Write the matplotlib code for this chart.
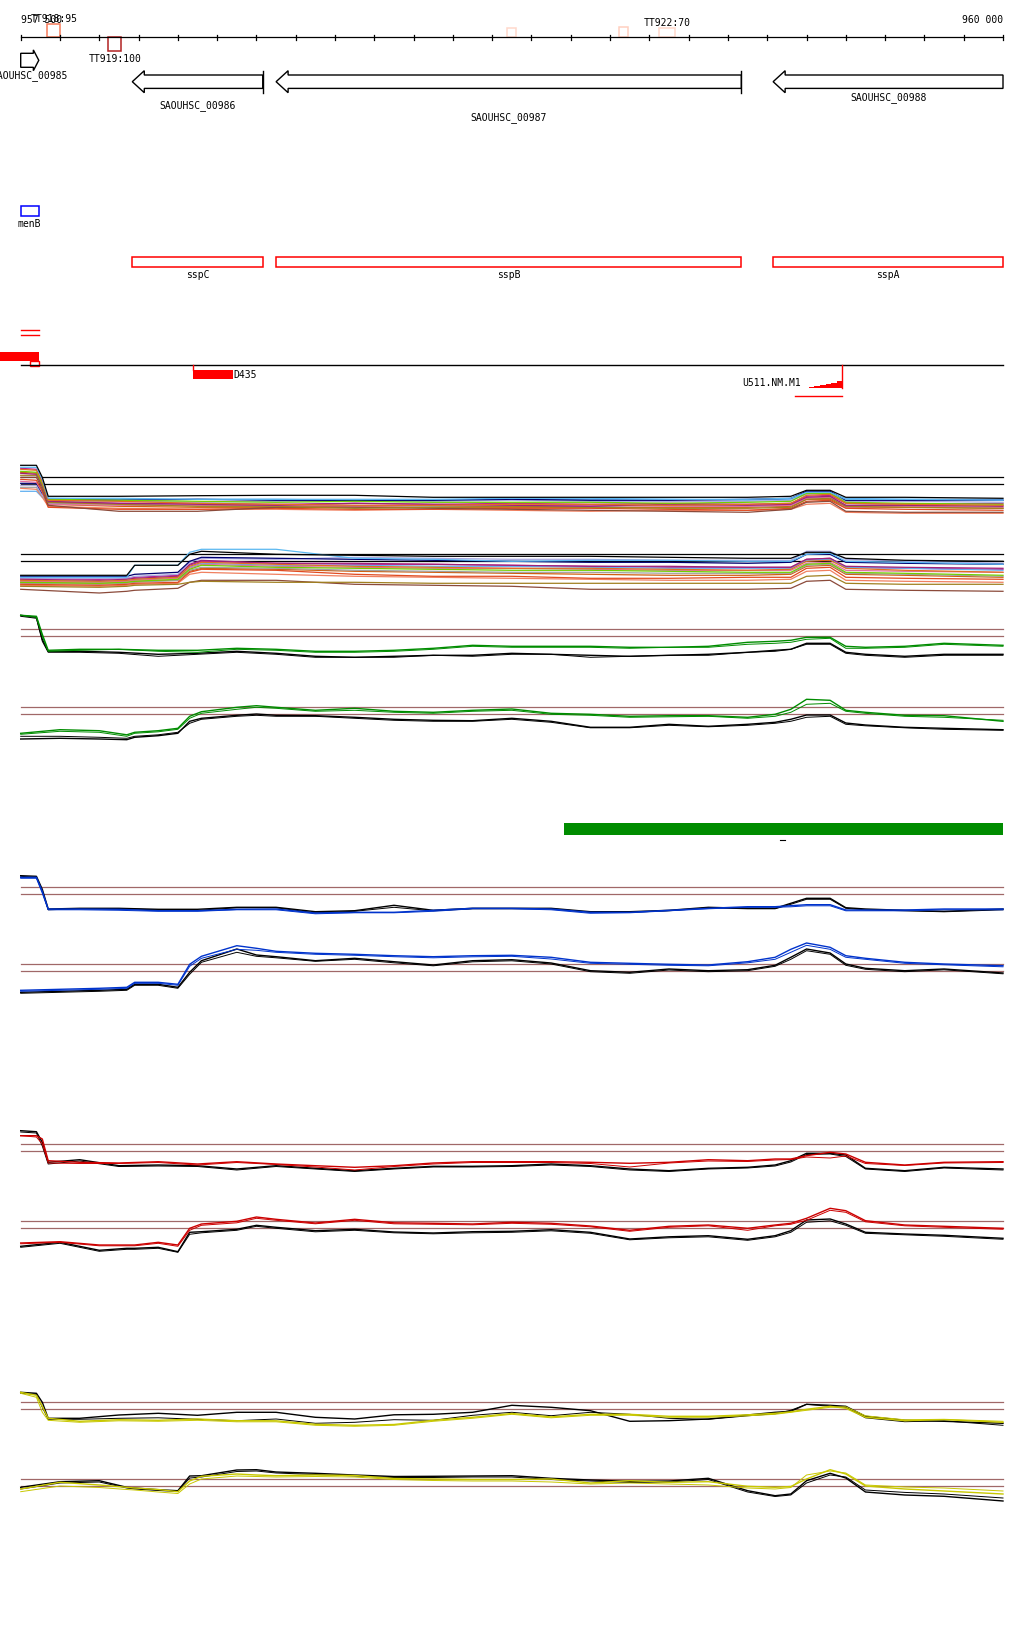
import numpy as np
import matplotlib.pyplot as plt
from matplotlib.patches import Polygon, Rectangle

# ---- view / ruler ----
VIEW_START, VIEW_END = 957500, 960000
BP_PER_PX = (VIEW_END - VIEW_START) / (1003.0 - 20.7)
X_LEFT = VIEW_START - 20.7 * BP_PER_PX
X_RIGHT = VIEW_START + (1024 - 20.7) * BP_PER_PX
TICK_STEP = 100

# ---- genes ----
gene_names = ["SAOUHSC_00985", "SAOUHSC_00986", "SAOUHSC_00987", "SAOUHSC_00988"]
gene_start = [957350, 957784, 958150, 959415]
gene_end = [957546, 958116, 959334, 960250]
gene_strand = [1, -1, -1, -1]

# ---- operon / feature boxes ----
feat_names = ["menB", "sspC", "sspB", "sspA"]
feat_start = [957500, 957784, 958150, 959415]
feat_end = [957546, 958116, 959334, 960000]

# ---- terminators ----
term_labels = ["TT918:95", "TT919:100", "", "", "TT922:70"]
term_start = [957568, 957723, 958737, 959023, 959125]
term_end = [957601, 957756, 958760, 959045, 959165]
term_score = [95, 100, 68, 74, 66]
term_strand = [1, -1, 1, 1, 1]

# ---- small RNA / read track ----
srna_labels = ["D435", "U511.NM.M1"]
cov_x = [959491, 959506, 959519, 959533, 959549, 959563, 959578, 959591]
cov_h = [0.7, 1.3, 2.0, 3.0, 4.0, 5.0, 7.0, 7.0]

# ---- signal tracks (thresholds shared) ----
THRESH = [40, 33]

X_UP = [957500, 957540, 957555, 957570, 957650, 957750, 957850, 957950, 958050, 958150,
        958250, 958350, 958450, 958550, 958650, 958750, 958850, 958950, 959050, 959150,
        959250, 959350, 959420, 959460, 959500, 959560, 959600, 959650, 959750, 959850, 960000]
X_LO = [957500, 957600, 957700, 957770, 957790, 957850, 957900, 957930, 957960, 958050,
        958100, 958150, 958250, 958350, 958450, 958550, 958650, 958750, 958850, 958950,
        959050, 959150, 959250, 959350, 959420, 959460, 959500, 959560, 959600, 959650,
        959750, 959850, 960000]
X_M_UP = [957500, 957540, 957555, 957570, 957750, 957950, 958150, 958350, 958550, 958750,
          958950, 959150, 959350, 959460, 959500, 959560, 959600, 959750, 960000]
X_M_LO = [957500, 957700, 957770, 957790, 957900, 957930, 957960, 958150, 958350, 958550,
          958750, 958950, 959150, 959350, 959460, 959500, 959560, 959600, 959750, 960000]

# multi-condition group (many colours)
multi_colors = ["black", "#5BB8F0", "#E07020", "#70D000", "#A0207A", "#A08020", "#8B4A3A",
                "#E04A20", "#E070A0", "#000070", "#A8A8E0", "#A0A0A0", "#F08060", "#60B0F0",
                "#C02090", "#D06010"]
multi_up = [
    [52, 52, 40, 21, 21, 21.6, 22, 22, 20, 20, 20, 20, 20, 21, 27, 27, 20, 20, 19],
    [50, 50, 38, 19, 19, 18, 18, 18, 18, 19, 19, 18, 18, 19, 25, 25, 18, 18, 17],
    [48, 47, 35, 17, 16, 14, 13, 12, 12, 13, 13, 12, 13, 14, 22, 23, 14, 13, 12],
    [46, 45, 33, 18, 17, 16, 15, 16, 15, 15, 15, 14, 15, 16, 24, 24, 15, 14, 13],
    [44, 43, 31, 16, 14, 13, 12, 14, 13, 12, 11, 13, 12, 13, 20, 21, 12, 12, 11],
    [42, 42, 30, 15, 13, 11, 11, 9, 10, 11, 10, 9, 9, 10, 18, 19, 11, 10, 9],
    [40, 40, 28, 12, 6, 6, 10, 10, 9, 8, 7, 6, 5, 8, 15, 16, 6, 5, 5],
    [38, 37, 26, 10, 8, 8, 9, 8, 8, 9, 9, 8, 7, 9, 16, 17, 9, 8, 7],
    [36, 35, 25, 13, 12, 12, 12, 11, 12, 11, 12, 11, 11, 12, 19, 20, 10, 11, 10],
    [34, 34, 24, 18, 17, 18, 17, 17, 17, 18, 17, 17, 18, 19, 26, 26, 17, 17, 17],
    [32, 32, 22, 16, 16, 15, 16, 16, 16, 17, 16, 16, 16, 17, 23, 24, 16, 16, 15],
    [30, 30, 21, 14, 13, 12, 12, 12, 11, 11, 11, 12, 11, 12, 19, 20, 12, 12, 12],
    [29, 28, 20, 11, 9, 8, 8, 7, 8, 7, 6, 7, 7, 8, 13, 14, 5, 4, 4],
    [26, 26, 20, 19, 18, 18, 18, 17, 17, 18, 18, 18, 17, 18, 24, 24, 19, 18, 18],
    [49, 48, 36, 15, 14, 14, 13, 14, 13, 14, 13, 14, 13, 14, 21, 22, 14, 13, 14],
    [45, 44, 32, 13, 11, 10, 10, 11, 10, 10, 10, 10, 10, 11, 18, 18, 10, 10, 9],
]
multi_lo = [
    [19, 19, 19, 29, 29, 40, 43, 40, 39, 38, 38, 38, 37, 36, 36, 42, 42, 36, 34, 33],
    [17, 17, 17, 29, 29, 42, 45, 45, 36, 35, 33, 34, 34, 33, 33, 40, 41, 33, 32, 30],
    [14, 13, 14, 15, 17, 28, 32, 30, 28, 27, 26, 26, 25, 24, 25, 33, 34, 26, 24, 22],
    [12, 11, 12, 13, 15, 25, 29, 27, 26, 25, 24, 24, 23, 22, 22, 30, 31, 22, 21, 19],
    [15, 14, 15, 16, 18, 30, 34, 31, 31, 30, 29, 28, 28, 27, 27, 35, 36, 28, 27, 26],
    [8, 7, 8, 9, 10, 12, 13, 12, 12, 11, 11, 11, 11, 11, 11, 18, 19, 11, 10, 10],
    [5, 1.3, 3, 4, 6, 12, 14, 14, 10, 9, 8, 5, 5, 5, 6, 13, 14, 5, 4, 3],
    [10, 9, 10, 11, 12, 22, 25, 24, 20, 18, 18, 16, 16, 17, 17, 26, 27, 17, 16, 15],
    [13, 12, 13, 14, 16, 26, 30, 28, 27, 26, 26, 25, 24, 24, 24, 31, 32, 24, 23, 22],
    [18, 18, 18, 20, 22, 33, 37, 36, 35, 34, 33, 32, 32, 31, 32, 40, 40, 32, 31, 30],
    [16, 16, 16, 18, 20, 32, 36, 35, 37, 36, 35, 35, 34, 34, 34, 43, 43, 35, 33, 31],
    [11, 10, 11, 12, 14, 24, 27, 26, 24, 23, 22, 22, 21, 21, 21, 29, 30, 21, 20, 18],
    [9, 8, 9, 10, 11, 20, 22, 20, 18, 17, 16, 15, 14, 14, 15, 23, 24, 14, 13, 12],
    [14, 13, 14, 15, 17, 27, 31, 29, 29, 28, 28, 27, 26, 26, 26, 34, 35, 27, 26, 24],
    [16, 15, 16, 17, 19, 29, 33, 31, 30, 30, 29, 28, 27, 27, 27, 35, 36, 27, 26, 25],
    [12, 11, 12, 13, 14, 23, 26, 25, 23, 22, 21, 20, 19, 19, 20, 28, 29, 20, 19, 17],
]

# green condition
green_up_a = [54, 53, 35, 19, 20, 20, 19, 19, 21, 20, 18, 18, 19, 21, 24, 23, 23, 23, 22, 22,
              23, 27, 28, 29, 32, 32, 23, 22, 23, 26, 24]
green_up_b = [54, 52, 33, 18, 19, 20, 18, 17, 20, 19, 17, 17, 18, 20, 23, 22, 22, 22, 21, 22,
              22, 25, 26, 27, 30, 31, 21, 21, 22, 25, 23]
green_up_k1 = [54, 52, 30, 18, 18, 17, 15, 16, 18, 16, 13, 12, 13, 14, 14, 16, 15, 14, 13, 14,
               15, 17, 19, 20, 26, 26, 17, 15, 13, 15, 15]
green_up_k2 = [53, 51, 28, 17, 17, 16, 13, 15, 17, 15, 12, 12, 12, 14, 13, 15, 15, 12, 13, 14,
               14, 17, 18, 20, 25, 25, 16, 14, 12, 14, 14]
green_lo_a = [14, 17.6, 16.6, 12.5, 15, 16.6, 19, 31, 35.6, 40, 41.6, 40, 37, 39, 36, 35, 37,
              38.3, 34, 33, 31, 31.6, 31.6, 30, 33, 38, 48, 47, 37, 35, 32, 31.6, 26]
green_lo_b = [13, 16, 15, 11, 14, 15.5, 18, 29, 34, 38, 40, 39, 36, 37, 35, 34, 36, 37, 33, 32,
              30, 30.5, 31, 29, 31, 35, 43, 44, 36, 34, 31, 30, 27]
green_lo_k1 = [8.3, 9, 8.3, 7.6, 10, 11.6, 14, 26, 29, 32, 33.3, 32, 31.6, 30, 28, 27, 26.6, 29,
               26, 20, 20, 23, 21, 23, 25, 28, 32.3, 32.3, 24.3, 22.3, 20, 19, 17.6]
green_lo_k2 = [11, 11, 10, 9, 11, 12.5, 15, 24, 28, 31, 32, 31, 31, 29, 27, 26, 26, 28, 25,
               19.5, 19.5, 22, 20.5, 22, 24, 26, 30, 31, 23, 21.5, 19.5, 18, 17]

# blue condition
blue_up_a = [50, 50, 36, 18.3, 18.3, 18, 16.6, 16.6, 18, 18.3, 14.3, 15, 15, 17, 19, 19, 18.3,
             15, 15, 17, 19, 20.6, 20.6, 21.6, 22.6, 22.6, 17.3, 17.3, 17.3, 18.3, 18.3]
blue_up_b = [49, 49, 34, 17.5, 17.5, 17, 16, 16, 17.5, 17.5, 13.5, 14.5, 14.5, 16, 18.5, 18.5,
             17.5, 14, 14.5, 16.5, 18.5, 20, 20, 20.5, 21.5, 21.5, 16.5, 16.5, 16.5, 17.5, 17.5]
blue_up_k1 = [51.6, 51, 38, 18.3, 19, 19, 18, 18, 20, 20, 15.6, 16.6, 22, 17, 19, 19, 19, 15.6,
              15.6, 17, 20, 19, 19, 24, 29, 29, 19.6, 18.3, 17, 16, 18.3]
blue_up_k2 = [51, 50, 36, 17.5, 18.5, 18.5, 17.5, 17, 19.5, 19.5, 14.5, 16, 20, 16.5, 18.5, 18.5,
              18.5, 15, 15, 16.5, 19.5, 18.5, 18.5, 23, 28, 28, 19, 17.5, 16.5, 15.5, 17.5]
blue_lo_a = [14, 15, 16, 17, 22, 22, 20, 40, 48, 58.6, 56, 53, 51, 50, 48.6, 47.6, 48.6, 49, 47,
             42, 41, 40, 39.3, 42.6, 47, 55, 61.3, 57, 48.6, 46, 42, 40.3, 38.6]
blue_lo_b = [13, 14, 15, 16, 21, 21, 19, 38, 46, 55, 54, 52, 50, 49, 47.6, 46.5, 47.5, 48, 45.3,
             41, 40, 39, 38.5, 41.5, 45, 52, 59, 55, 47, 45, 41, 39.5, 37.5]
blue_lo_k1 = [12, 13, 14, 15, 20, 20, 17, 32, 43.6, 55.3, 49.3, 47.6, 43.6, 46, 42.6, 39.3, 43.6,
              44.6, 41.3, 33.6, 32, 35.3, 33.6, 34.6, 39, 47, 55.3, 51.3, 40.3, 36, 33.6, 35.3, 31.3]
blue_lo_k2 = [11, 12, 13, 14, 19, 19, 16, 30, 42, 52, 48, 46.5, 43, 45, 41.5, 38.5, 42.5, 43.5,
              40.3, 32.6, 31, 34.3, 32.6, 33.6, 38, 45, 53.6, 50, 39, 35, 32.6, 34.5, 30.5]

# red condition
red_up_a = [48.3, 48.3, 45, 23.3, 21.7, 21, 22.3, 20, 22.3, 20, 18.3, 16.7, 18.3, 21, 22.3, 22.3,
            22.3, 21.7, 20.7, 21.7, 24.3, 23.3, 25, 25, 28.3, 31.7, 30, 21.7, 19, 21.7, 22.3]
red_up_b = [48.3, 47, 40, 21, 20.5, 20.5, 21.5, 19, 21.5, 19.5, 17, 14, 17.5, 20, 21.5, 21.5,
            21.5, 20.5, 17, 21, 23, 22.5, 24, 24.5, 27, 26, 28, 20.5, 18.5, 21, 21.5]
red_up_k1 = [53.3, 52.3, 41.7, 21.7, 24.3, 18.3, 19, 18.3, 15, 18.3, 15.7, 13.3, 15.7, 17.7, 17.7,
             18.3, 20, 18.3, 15, 13.3, 15.7, 16.7, 19, 23.3, 30.7, 30.7, 29, 15.7, 13.3, 16.7, 15]
red_up_k2 = [52, 51, 38, 20, 23, 17.5, 18, 17.5, 14, 17.5, 15, 12.5, 15, 17, 17, 17.5, 19, 17.5,
             14, 12.5, 15, 16, 18, 22, 29.5, 30, 27.5, 15, 12.5, 16, 14]
red_lo_a = [18.3, 19.6, 16.3, 16.3, 16.3, 19, 16.3, 33, 37.3, 40, 44.3, 42, 38.3, 42, 38.5, 38,
            37.3, 39, 38, 35.3, 31, 35, 36.3, 33, 36.3, 38, 43, 53, 50.6, 40.6, 36.3, 35, 33]
red_lo_b = [17.5, 19, 15.5, 15.5, 15.5, 18, 15, 31, 36, 38.5, 43, 41, 37.5, 41, 37.5, 37, 36.5,
            38, 37, 34.5, 30, 34, 35.5, 31, 35.5, 37, 41, 51, 49, 39.5, 35.5, 34, 32]
red_lo_k1 = [15, 19, 11, 13, 13, 14, 9.6, 29, 29.6, 32, 36, 34, 30.6, 32, 29.3, 28.3, 29.6, 30,
             31.6, 29, 22.3, 24.5, 25.6, 22, 25.6, 30.6, 41.3, 42.3, 37.3, 29, 27.3, 26, 23]
red_lo_k2 = [14, 18, 10, 12, 12, 13, 9, 27, 28.5, 31, 35, 33, 29.5, 31, 28.5, 27.5, 28.5, 29,
             30.5, 28, 21.5, 23.5, 24.5, 21, 24.5, 29, 39, 40.5, 36, 28, 26.5, 25, 22]

# yellow condition
yel_up_a = [50, 47, 36, 24, 21, 22.6, 22, 23.3, 21.6, 21.5, 18, 17, 17.8, 22, 25, 28.8, 25.4,
            28, 28, 26, 26, 27.5, 29, 30.5, 33, 36, 34, 25, 21.6, 22.6, 20]
yel_up_b = [49, 45, 30, 22, 20, 21.5, 21, 22, 20.5, 20.5, 17, 16, 17, 21, 24, 28, 24.5, 27, 27,
            25, 25, 26.5, 28, 30, 32, 35, 35.5, 26.5, 22.5, 23, 21]
yel_up_k1 = [50, 49, 40, 24, 24, 27.3, 29, 27, 30, 30, 25, 23.3, 27.5, 28, 30, 37, 35, 31.6, 21,
             21.6, 23.3, 27.3, 30, 31, 38, 37, 36, 26, 22, 21, 19]
yel_up_k2 = [49, 48, 35, 23, 23, 24, 24.5, 23, 21.6, 23.3, 19, 20, 22.6, 22, 27, 30, 26.6, 30,
             28, 24, 23, 26.5, 28.5, 32, 38, 36, 35, 24.5, 20.6, 21.5, 17]
yel_lo_a = [30, 36.7, 34, 31.7, 31, 29.5, 27.3, 38, 42.7, 45, 44, 43.3, 44, 43.5, 40.5, 40,
            39.5, 39.5, 40, 36, 38.3, 36.7, 37.3, 32.7, 31.7, 32.5, 40, 49.3, 45, 33, 30, 28, 25]
yel_lo_b = [27.3, 33, 31.5, 29.5, 29, 27, 25.5, 35, 40, 43, 42.5, 42, 42.5, 42, 39.5, 38.5, 38,
            38, 37, 35, 36, 35, 34, 31, 30, 31.5, 44, 48, 46, 34, 32, 31, 28]
yel_lo_k1 = [31.7, 37.3, 38.3, 31.7, 31, 29.3, 28.3, 43, 43.3, 49, 49.3, 47, 45.7, 44, 42.5,
             42.7, 43, 43.3, 40.7, 39, 37.7, 38, 40.7, 28.3, 23.3, 25, 38.3, 45.7, 41, 27, 24,
             22.7, 18]
yel_lo_k2 = [30, 36, 37, 31, 30, 28.5, 27.5, 41, 42, 47.5, 48, 46, 44.5, 43, 41.5, 41.5, 42, 42,
             39.5, 38, 36.5, 37, 39.5, 27, 22.5, 24, 36, 44, 42, 29, 26.6, 25, 21]

# ---------------- drawing ----------------
W, H = 1024, 1640
fig = plt.figure(figsize=(W / 100, H / 100), dpi=100)
ax = fig.add_axes([0, 0, 1, 1])
ax.set_xlim(X_LEFT, X_RIGHT)
ax.set_ylim(H, 0)
ax.axis("off")

FONT = dict(family="DejaVu Sans Mono", fontsize=7, color="black")
px = BP_PER_PX

# ruler
RULER_Y = 38.3
ax.plot([VIEW_START, VIEW_END], [RULER_Y, RULER_Y], color="black", lw=0.9)
for t in range(VIEW_START, VIEW_END + 1, TICK_STEP):
    ax.plot([t, t], [RULER_Y - 2.5, RULER_Y + 2.5], color="black", lw=0.9)
ax.text(VIEW_START, 20, "957 500", ha="left", va="center", **FONT)
ax.text(VIEW_END, 20, "960 000", ha="right", va="center", **FONT)

# terminators
term_colors = ["#F77B5A", "#B22222", "#FFD8CC", "#FFD0C0", "#FFD8CC"]
for lab, s, e, sc, st, c in zip(term_labels, term_start, term_end, term_score, term_strand, term_colors):
    h = sc * 0.135
    y0 = RULER_Y - h if st > 0 else RULER_Y
    ax.add_patch(Rectangle((s, y0), e - s, h, fill=False, ec=c, lw=1.1))
    if lab:
        ly = RULER_Y - h - 6 if st > 0 else RULER_Y + h + 7
        ax.text((s + e) / 2, ly, lab, ha="center", va="center", **FONT)

# genes
gene_row = [61.3, 82.7, 82.7, 82.7]
gene_body = [7.0, 6.7, 6.7, 6.7]
gene_head = [10.4, 11.0, 11.0, 11.0]
label_off = [14.7, 23.3, 35.3, 14.7]
for name, s, e, st, yc, bh, hh, lo in zip(gene_names, gene_start, gene_end, gene_strand,
                                         gene_row, gene_body, gene_head, label_off):
    vs, ve = max(s, VIEW_START), min(e, VIEW_END)
    hl = min(12 * px, 0.3 * (ve - vs))
    if st > 0:
        b = ve - hl
        pts = [(vs, yc - bh), (b, yc - bh), (b, yc - hh), (ve, yc), (b, yc + hh), (b, yc + bh), (vs, yc + bh)]
    else:
        b = vs + hl
        pts = [(ve, yc - bh), (b, yc - bh), (b, yc - hh), (vs, yc), (b, yc + hh), (b, yc + bh), (ve, yc + bh)]
        if e < VIEW_END:
            ax.plot([ve, ve], [yc - hh, yc + hh], color="black", lw=1)
    ax.add_patch(Polygon(pts, closed=True, fc="white", ec="black", lw=1))
    ax.text((vs + ve) / 2, yc + lo, name, ha="center", va="center", **FONT)

# feature boxes
feat_colors = ["#0000FF", "#FF0000", "#FF0000", "#FF0000"]
feat_row = [212.3, 263.3, 263.3, 263.3]
for name, s, e, c, yc in zip(feat_names, feat_start, feat_end, feat_colors, feat_row):
    ax.add_patch(Rectangle((s, yc - 5), e - s, 10, fill=False, ec=c, lw=1.1))
    ax.text((s + e) / 2, yc + 12, name, ha="center", va="center", **FONT)

# small RNA / read track
BASE_Y = 366
ax.plot([VIEW_START, VIEW_START + 46], [331.3, 331.3], color="red", lw=1)
ax.plot([VIEW_START, VIEW_START + 46], [336, 336], color="red", lw=1)
ax.add_patch(Rectangle((X_LEFT - 10, 353.3), VIEW_START + 46 - X_LEFT + 10, 8.4, fc="red", ec="none"))
ax.add_patch(Rectangle((VIEW_START + 24, 361.7), 22, 5, fill=False, ec="red", lw=1))
ax.plot([VIEW_START, VIEW_END], [BASE_Y, BASE_Y], color="black", lw=1)
d_s, d_e = 957939, 958041
ax.plot([d_s, d_s], [BASE_Y, 371], color="red", lw=1)
ax.add_patch(Rectangle((d_s, 370.7), d_e - d_s, 9.3, fc="red", ec="none"))
ax.text(d_e, 375.5, srna_labels[0], ha="left", va="center", **FONT)
COV_BASE = 389.3
ax.fill_between(cov_x, COV_BASE, [COV_BASE - h for h in cov_h], step="post", color="red", lw=0)
ax.plot([cov_x[-1], cov_x[-1]], [BASE_Y, COV_BASE], color="red", lw=1)
ax.plot([959471, cov_x[-1]], [397.3, 397.3], color="red", lw=1)
ax.text(cov_x[0] - 4, 383.3, srna_labels[1], ha="right", va="center", **FONT)

# green region bar
ax.add_patch(Rectangle((958882, 824), VIEW_END - 958882, 11.7, fc="#008C00", ec="none"))
ax.plot([959433, 959446], [841.3, 841.3], color="black", lw=0.8)


# signal tracks
def track(y_bottom, thresh_color):
    a = fig.add_axes([0, 1 - y_bottom / H, 1, 80 / H])
    a.set_xlim(X_LEFT, X_RIGHT)
    a.set_ylim(0, 80)
    a.axis("off")
    for t in THRESH:
        a.plot([VIEW_START, VIEW_END], [t, t], color=thresh_color, lw=0.9)
    return a


a = track(518.3, "black")
for c, v in zip(multi_colors[::-1], multi_up[::-1]):
    a.plot(X_M_UP, v, color=c, lw=0.9)
a = track(595.3, "black")
for c, v in zip(multi_colors[::-1], multi_lo[::-1]):
    a.plot(X_M_LO, v, color=c, lw=0.9)

TH = "#A06868"
pairs = [
    (670.3, X_UP, "#008C00", green_up_a, green_up_b, green_up_k1, green_up_k2),
    (748.3, X_LO, "#008C00", green_lo_a, green_lo_b, green_lo_k1, green_lo_k2),
    (928.3, X_UP, "#0033CC", blue_up_a, blue_up_b, blue_up_k1, blue_up_k2),
    (1005.3, X_LO, "#0033CC", blue_lo_a, blue_lo_b, blue_lo_k1, blue_lo_k2),
    (1185.0, X_UP, "#CC0000", red_up_a, red_up_b, red_up_k1, red_up_k2),
    (1262.3, X_LO, "#CC0000", red_lo_a, red_lo_b, red_lo_k1, red_lo_k2),
    (1443.3, X_UP, "#C8C800", yel_up_a, yel_up_b, yel_up_k1, yel_up_k2),
    (1520.0, X_LO, "#C8C800", yel_lo_a, yel_lo_b, yel_lo_k1, yel_lo_k2),
]
for yb, xs, col, ca, cb, k1, k2 in pairs:
    a = track(yb, TH)
    a.plot(xs, k1, color="black", lw=1.0)
    a.plot(xs, k2, color="black", lw=0.7)
    a.plot(xs, ca, color=col, lw=1.0)
    a.plot(xs, cb, color=col, lw=0.7)

fig.savefig("out.png", dpi=100, facecolor="white")
